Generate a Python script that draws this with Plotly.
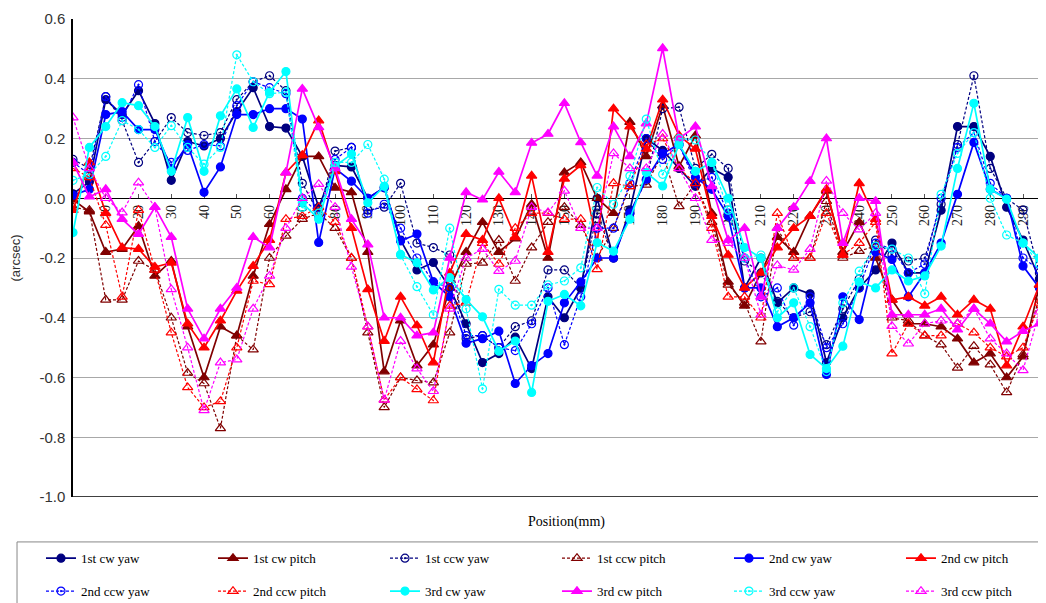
import plotly.graph_objects as go

positions = [0, 5, 10, 15, 20, 25, 30, 35, 40, 45,
             50, 55, 60, 65, 70, 75, 80, 85, 90, 95,
             100, 105, 110, 115, 120, 125, 130, 135, 140, 145,
             150, 155, 160, 165, 170, 175, 180, 185, 190, 195,
             200, 205, 210, 215, 220, 225, 230, 235, 240, 245,
             250, 255, 260, 265, 270, 275, 280, 285, 290, 295]

tick_values = [10, 20, 30, 40, 50, 60, 70, 80, 90, 100, 110, 120, 130, 140,
               150, 160, 170, 180, 190, 200, 210, 220, 230, 240, 250, 260,
               270, 280, 290]
tick_labels = [str(v) for v in tick_values]
y_tick_values = [-1.0, -0.8, -0.6, -0.4, -0.2, 0.0, 0.2, 0.4, 0.6]
y_tick_labels = ["-1.0", "-0.8", "-0.6", "-0.4", "-0.2", "0.0", "0.2", "0.4", "0.6"]

cw1_yaw = [0.015, 0.055, 0.33, 0.28, 0.36, 0.25, 0.06, 0.19, 0.175, 0.20,
           0.29, 0.37, 0.24, 0.235, 0.14, -0.03, 0.11, 0.105, 0.0, 0.035,
           -0.14, -0.24, -0.215, -0.30, -0.42, -0.55, -0.52, -0.465, -0.57, -0.33,
           -0.40, -0.30, 0.0, -0.20, -0.04, 0.20, 0.16, 0.10, 0.04, 0.10,
           0.07, -0.30, -0.20, -0.35, -0.30, -0.32, -0.55, -0.40, -0.30, -0.24,
           -0.15, -0.25, -0.25, -0.04, 0.24, 0.24, 0.14, -0.03, -0.14, -0.27]
cw1_pitch = [-0.005, -0.045, -0.18, -0.17, -0.093, -0.26, -0.21, -0.43, -0.60, -0.43,
             -0.46, -0.26, -0.087, 0.03, 0.14, 0.14, 0.035, 0.02, -0.18, -0.58,
             -0.41, -0.56, -0.49, -0.30, -0.18, -0.08, -0.18, -0.135, -0.02, -0.20,
             0.086, 0.12, 0.0, -0.05, 0.255, 0.14, 0.31, 0.107, 0.21, -0.05,
             -0.28, -0.36, -0.25, -0.13, -0.18, -0.06, 0.025, -0.18, -0.08, -0.20,
             -0.34, -0.42, -0.42, -0.43, -0.47, -0.55, -0.52, -0.60, -0.53, -0.29]
ccw1_yaw = [0.13, 0.10, 0.34, 0.26, 0.12, 0.19, 0.27, 0.22, 0.21, 0.22,
            0.33, 0.39, 0.41, 0.36, 0.05, -0.05, 0.158, 0.17, -0.04, -0.03,
            0.05, -0.15, -0.165, -0.19, -0.47, -0.46, -0.50, -0.43, -0.41, -0.24,
            -0.24, -0.30, -0.05, -0.20, -0.05, 0.06, 0.30, 0.305, 0.10, 0.147,
            0.10, -0.21, -0.25, -0.345, -0.40, -0.38, -0.49, -0.37, -0.27, -0.14,
            -0.19, -0.21, -0.20, -0.02, 0.18, 0.41, 0.10, 0.0, -0.04, -0.25]
ccw1_pitch = [-0.03, -0.04, -0.34, -0.34, -0.21, -0.24, -0.40, -0.585, -0.62, -0.77,
              -0.46, -0.507, -0.20, -0.126, -0.07, -0.05, -0.10, -0.20, -0.45, -0.70,
              -0.60, -0.61, -0.617, -0.45, -0.22, -0.216, -0.14, -0.277, -0.165, -0.08,
              -0.03, -0.09, -0.20, -0.10, 0.04, 0.045, 0.15, -0.027, 0.05, -0.08,
              -0.29, -0.35, -0.48, -0.10, -0.20, -0.20, -0.01, -0.20, -0.177, -0.16,
              -0.40, -0.41, -0.46, -0.49, -0.568, -0.495, -0.557, -0.65, -0.523, -0.33]
cw2_yaw = [0.01, 0.03, 0.28, 0.29, 0.23, 0.23, 0.10, 0.18, 0.02, 0.105,
           0.28, 0.28, 0.30, 0.30, 0.265, -0.148, 0.10, 0.057, 0.0, 0.036,
           -0.143, -0.12, -0.28, -0.33, -0.485, -0.47, -0.445, -0.62, -0.56, -0.52,
           -0.35, -0.28, -0.20, -0.20, -0.05, 0.064, 0.15, 0.18, 0.07, 0.03,
           -0.06, -0.30, -0.30, -0.43, -0.40, -0.35, -0.59, -0.33, -0.406, -0.18,
           -0.205, -0.33, -0.25, -0.15, 0.013, 0.187, 0.03, 0.0, -0.227, -0.30]
cw2_pitch = [-0.04, 0.12, -0.05, -0.165, -0.17, -0.23, -0.216, -0.42, -0.50, -0.41,
             -0.31, -0.227, -0.14, 0.086, 0.144, 0.26, 0.09, -0.10, -0.305, -0.478,
             -0.33, -0.426, -0.55, -0.25, -0.12, -0.14, 0.0, -0.13, 0.075, -0.18,
             0.065, 0.11, -0.15, 0.30, 0.24, 0.165, 0.33, 0.21, 0.165, -0.06,
             -0.19, -0.30, -0.25, -0.165, -0.10, -0.06, 0.03, -0.19, 0.05, -0.07,
             -0.34, -0.33, -0.36, -0.33, -0.39, -0.34, -0.37, -0.56, -0.43, -0.29]
ccw2_yaw = [0.12, 0.08, 0.34, 0.27, 0.38, 0.19, 0.12, 0.16, 0.18, 0.175,
            0.31, 0.39, 0.37, 0.35, 0.0, -0.05, 0.13, 0.17, -0.05, -0.02,
            -0.10, -0.20, -0.28, -0.30, -0.46, -0.46, -0.50, -0.51, -0.42, -0.30,
            -0.49, -0.33, -0.10, -0.10, 0.05, 0.20, 0.13, 0.18, 0.05, 0.07,
            -0.05, -0.20, -0.33, -0.30, -0.425, -0.33, -0.50, -0.42, -0.30, -0.15,
            -0.17, -0.25, -0.22, 0.0, 0.17, 0.22, 0.05, 0.0, -0.20, -0.24]
ccw2_pitch = [0.10, 0.07, -0.09, -0.33, -0.04, -0.24, -0.45, -0.633, -0.70, -0.68,
              -0.50, -0.277, -0.288, -0.07, -0.06, -0.03, -0.08, -0.20, -0.43, -0.675,
              -0.60, -0.64, -0.677, -0.36, -0.35, -0.15, -0.22, -0.10, -0.05, -0.05,
              -0.07, -0.07, -0.238, 0.05, 0.04, 0.18, 0.20, 0.10, 0.05, -0.10,
              -0.33, -0.33, -0.40, -0.05, -0.20, -0.20, -0.05, -0.19, -0.15, -0.08,
              -0.52, -0.42, -0.46, -0.46, -0.42, -0.45, -0.50, -0.53, -0.50, -0.35]
cw3_yaw = [-0.115, 0.17, 0.24, 0.32, 0.31, 0.24, 0.09, 0.27, 0.09, 0.276,
           0.366, 0.237, 0.355, 0.424, -0.015, -0.07, 0.107, 0.148, -0.015, 0.04,
           -0.188, -0.216, -0.307, -0.266, -0.339, -0.397, -0.512, -0.478, -0.65, -0.345,
           -0.322, -0.36, -0.149, -0.177, -0.07, 0.086, 0.041, 0.18, 0.09, 0.12,
           0.0, -0.165, -0.20, -0.40, -0.35, -0.523, -0.57, -0.495, -0.28, -0.30,
           -0.24, -0.277, -0.26, -0.16, 0.10, 0.318, 0.03, -0.003, -0.15, -0.20]
cw3_pitch = [0.12, 0.005, 0.03, -0.07, -0.12, -0.03, -0.13, -0.37, -0.47, -0.37,
             -0.30, -0.13, -0.165, 0.086, 0.366, 0.237, 0.10, -0.07, -0.155, -0.40,
             -0.40, -0.46, -0.45, -0.20, 0.02, -0.005, 0.088, 0.02, 0.185, 0.215,
             0.318, 0.187, 0.075, 0.24, 0.14, 0.25, 0.502, 0.20, 0.24, 0.04,
             -0.14, -0.10, -0.33, -0.10, -0.03, 0.057, 0.20, -0.15, 0.0, -0.01,
             -0.39, -0.39, -0.39, -0.37, -0.44, -0.37, -0.42, -0.48, -0.445, -0.42]
ccw3_yaw = [0.06, 0.08, 0.14, 0.26, 0.23, 0.17, 0.243, 0.17, 0.114, 0.17,
            0.48, 0.39, 0.35, 0.355, -0.03, -0.05, 0.12, 0.12, 0.18, 0.064,
            -0.19, -0.296, -0.39, -0.10, -0.37, -0.638, -0.305, -0.358, -0.358, -0.29,
            -0.277, -0.233, 0.036, -0.02, 0.075, 0.265, 0.08, 0.20, 0.195, 0.12,
            -0.04, -0.20, -0.19, -0.38, -0.30, -0.43, -0.58, -0.35, -0.244, -0.16,
            -0.17, -0.20, -0.32, 0.013, 0.15, 0.22, 0.0, -0.123, -0.15, -0.22]
ccw3_pitch = [0.27, 0.10, 0.0, -0.048, 0.052, -0.03, -0.305, -0.50, -0.71, -0.55,
              -0.54, -0.37, -0.26, -0.10, 0.0, 0.047, -0.03, -0.23, -0.43, -0.675,
              -0.478, -0.57, -0.646, -0.37, -0.20, -0.17, -0.244, -0.21, -0.03, -0.048,
              0.025, -0.10, -0.10, 0.15, 0.10, 0.10, 0.215, 0.10, 0.0, -0.14,
              -0.15, -0.20, -0.39, -0.225, -0.24, -0.17, 0.058, -0.05, -0.105, -0.05,
              -0.428, -0.487, -0.42, -0.41, -0.42, -0.37, -0.47, -0.52, -0.576, -0.38]

NAVY, DRED, BLUE, RED, CYAN, MAG = "#000080", "#800000", "#0000FF", "#FF0000", "#00FFFF", "#FF00FF"

# (name, values, color, dashed, marker symbol, legend)
series = [
    ("1st cw yaw", cw1_yaw, NAVY, False, "circle", "legend"),
    ("1st cw pitch", cw1_pitch, DRED, False, "triangle-up", "legend"),
    ("1st ccw yaw", ccw1_yaw, NAVY, True, "circle-open-dot", "legend"),
    ("1st ccw pitch", ccw1_pitch, DRED, True, "triangle-up-open", "legend"),
    ("2nd cw yaw", cw2_yaw, BLUE, False, "circle", "legend"),
    ("2nd cw pitch", cw2_pitch, RED, False, "triangle-up", "legend"),
    ("2nd ccw yaw", ccw2_yaw, BLUE, True, "circle-open-dot", "legend2"),
    ("2nd ccw pitch", ccw2_pitch, RED, True, "triangle-up-open", "legend2"),
    ("3rd cw yaw", cw3_yaw, CYAN, False, "circle", "legend2"),
    ("3rd cw pitch", cw3_pitch, MAG, False, "triangle-up", "legend2"),
    ("3rd ccw yaw", ccw3_yaw, CYAN, True, "circle-open-dot", "legend2"),
    ("3rd ccw pitch", ccw3_pitch, MAG, True, "triangle-up-open", "legend2"),
]

fig = go.Figure()
for name, vals, color, dashed, symbol, leg in series:
    is_tri = symbol.startswith("triangle")
    fig.add_trace(go.Scatter(
        x=positions, y=vals, name=name, mode="lines+markers",
        legend=leg,
        line=dict(color=color, width=1.2 if dashed else 1.7,
                  dash="3px,2px" if dashed else "solid"),
        marker=dict(symbol=symbol, color=color, size=9 if is_tri else 8,
                    line=dict(color=color, width=1.2)),
    ))

FONT_SERIF = "Liberation Serif, Times New Roman, serif"
FONT_SANS = "Liberation Sans, Arial, sans-serif"

legend_common = dict(orientation="h", xanchor="left", yanchor="middle",
                     entrywidth=127, entrywidthmode="pixels",
                     bgcolor="rgba(0,0,0,0)",
                     font=dict(family=FONT_SERIF, size=13, color="#000"),
                     itemclick=False, itemdoubleclick=False)

# The page body adds an 8px offset, so margins are reduced by 8px left/top.
fig.update_layout(
    width=1046, height=603,
    margin=dict(l=65, r=11, t=11, b=114, autoexpand=False),
    paper_bgcolor="white", plot_bgcolor="white",
    font=dict(family=FONT_SERIF, color="#000"),
    xaxis=dict(
        range=[0, 296.1], anchor="free", position=0.625,
        showline=True, linecolor="black", linewidth=1.3,
        tickmode="array", tickvals=tick_values, ticktext=tick_labels,
        tickangle=-90, ticks="inside", ticklen=4, tickcolor="#555",
        showgrid=False, zeroline=False,
        tickfont=dict(family=FONT_SERIF, size=14, color="#222"),
        layer="below traces",
    ),
    yaxis=dict(
        range=[-1.0, 0.6], tickmode="array", tickvals=y_tick_values,
        ticktext=y_tick_labels,
        showgrid=True, gridcolor="#a8a8a8", gridwidth=1,
        zeroline=True, zerolinecolor="black", zerolinewidth=1.3,
        showline=True, linecolor="black", linewidth=1.5,
        ticks="", ticklabelstandoff=3,
        tickfont=dict(family=FONT_SANS, size=15, color="#333"),
        title=dict(text="(arcsec)", standoff=16,
                   font=dict(family=FONT_SANS, size=13, color="#333")),
        layer="below traces",
    ),
    legend=dict(x=-0.033, y=-0.128, **legend_common),
    legend2=dict(x=-0.033, y=-0.197, **legend_common),
    annotations=[dict(text="Position(mm)", xref="paper", yref="paper",
                      x=0.509, y=-0.052, showarrow=False, yanchor="middle",
                      font=dict(family=FONT_SERIF, size=14, color="#000"))],
    shapes=[
        dict(type="line", xref="paper", yref="y", x0=0, x1=1, y0=-1.0, y1=-1.0,
             line=dict(color="black", width=1.5), layer="above"),
        dict(type="rect", xref="paper", yref="paper", x0=-0.0577, x1=1.0005,
             y0=-0.25, y1=-0.094, line=dict(color="#888", width=1),
             fillcolor="rgba(0,0,0,0)", layer="below"),
    ],
)

fig.write_html("out.html")
